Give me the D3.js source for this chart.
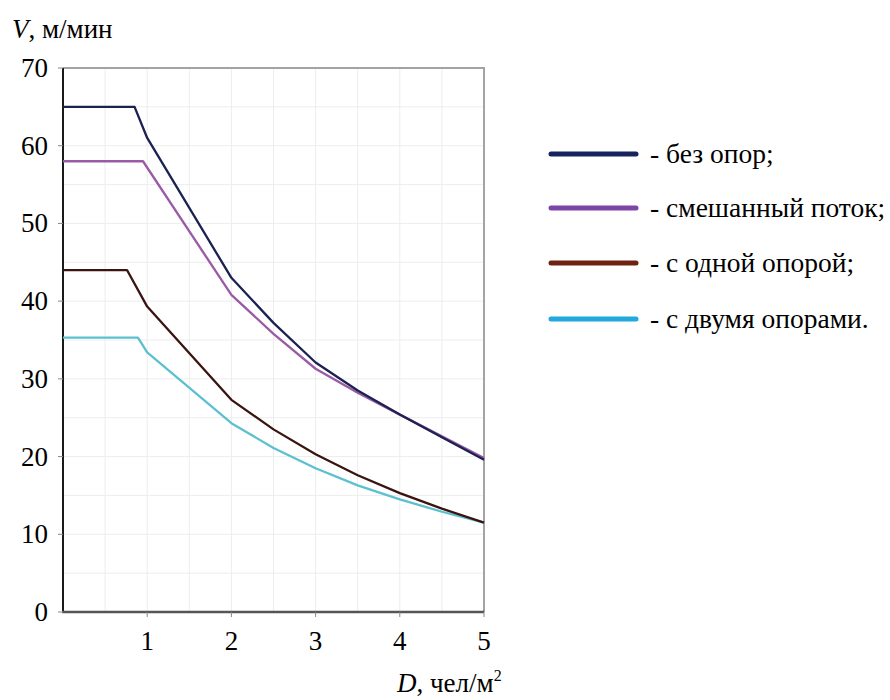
<!DOCTYPE html>
<html><head><meta charset="utf-8"><script src="https://cdn.jsdelivr.net/npm/d3@7"></script></head>
<body style="margin:0">
<svg id="chart" width="890" height="700"></svg>
<script>
const seriesNames = ["без опор", "смешанный поток", "с одной опорой", "с двумя опорами"];
const noSupportD   = [0, 0.85, 1, 2, 2.5, 3, 3.5, 4, 4.5, 5];
const noSupportV   = [65, 65, 61, 43, 37.2, 32.1, 28.5, 25.4, 22.5, 19.6];
const mixedD       = [0, 0.95, 2, 2.5, 3, 3.5, 4, 4.5, 5];
const mixedV       = [58, 58, 40.8, 35.8, 31.3, 28.2, 25.4, 22.6, 19.8];
const oneSupportD  = [0, 0.76, 1, 2, 2.5, 3, 3.5, 4, 4.5, 5];
const oneSupportV  = [44, 44, 39.3, 27.3, 23.5, 20.3, 17.6, 15.3, 13.3, 11.5];
const twoSupportD  = [0, 0.89, 1, 2, 2.5, 3, 3.5, 4, 4.5, 5];
const twoSupportV  = [35.3, 35.3, 33.4, 24.3, 21.1, 18.5, 16.3, 14.5, 12.9, 11.5];

const legendLabels = ["- без опор;", "- смешанный поток;", "- с одной опорой;", "- с двумя опорами."];
const xTicks = [1, 2, 3, 4, 5];
const yTicks = [0, 10, 20, 30, 40, 50, 60, 70];

const lineColors   = ["#1b2150", "#9a5aa6", "#3a1410", "#5cc0d0"];
const legendColors = ["#15245a", "#7e44a8", "#6e2212", "#22a8dc"];

const svg = d3.select("#chart");
const x = d3.scaleLinear().domain([0, 5]).range([63, 484]);
const y = d3.scaleLinear().domain([0, 70]).range([612, 68]);

// faint grid
const grid = svg.append("g");
grid.selectAll("line.v").data(d3.range(0.5, 5, 0.5)).join("line")
  .attr("x1", d => x(d)).attr("x2", d => x(d))
  .attr("y1", y(70)).attr("y2", y(0))
  .attr("stroke", "#ededed").attr("stroke-width", 1);
grid.selectAll("line.h").data(d3.range(5, 70, 5)).join("line")
  .attr("x1", x(0)).attr("x2", x(5))
  .attr("y1", d => y(d)).attr("y2", d => y(d))
  .attr("stroke", "#ededed").attr("stroke-width", 1);

// top and right edges of the plot frame
svg.append("path")
  .attr("d", `M${x(0)},${y(70)}H${x(5)}V${y(0)}`)
  .attr("fill", "none").attr("stroke", "#a3a3a3").attr("stroke-width", 2);

// axis lines and tick marks
svg.append("line").attr("x1", x(0)).attr("x2", x(0)).attr("y1", y(70)).attr("y2", y(0))
  .attr("stroke", "#1a1a1a").attr("stroke-width", 2);
svg.append("line").attr("x1", x(0) - 1).attr("x2", x(5)).attr("y1", y(0)).attr("y2", y(0))
  .attr("stroke", "#555").attr("stroke-width", 2.5);
svg.append("g").selectAll("line").data(yTicks).join("line")
  .attr("x1", x(0) - 5).attr("x2", x(0)).attr("y1", d => y(d)).attr("y2", d => y(d))
  .attr("stroke", "#888");
svg.append("g").selectAll("line").data(xTicks).join("line")
  .attr("x1", d => x(d)).attr("x2", d => x(d)).attr("y1", y(0)).attr("y2", y(0) + 5)
  .attr("stroke", "#888");

// tick numbers
svg.append("g").selectAll("text").data(yTicks).join("text")
  .attr("x", x(0) - 15).attr("y", d => y(d) + 9)
  .attr("text-anchor", "end")
  .attr("font-family", "Liberation Serif").attr("font-size", 27)
  .text(d => d);
svg.append("g").selectAll("text").data(xTicks).join("text")
  .attr("x", d => x(d)).attr("y", y(0) + 38)
  .attr("text-anchor", "middle")
  .attr("font-family", "Liberation Serif").attr("font-size", 27)
  .text(d => d);

// axis titles
const yTitle = svg.append("text").attr("x", 12).attr("y", 38)
  .attr("font-family", "Liberation Serif").attr("font-size", 27);
yTitle.append("tspan").attr("font-style", "italic").text("V");
yTitle.append("tspan").text(", м/мин");

const xTitle = svg.append("text").attr("x", 397).attr("y", 692)
  .attr("font-family", "Liberation Serif").attr("font-size", 27);
xTitle.append("tspan").attr("font-style", "italic").text("D");
xTitle.append("tspan").text(", чел/м");
xTitle.append("tspan").attr("dy", -11).attr("font-size", 16).text("2");

// speed curves
const series = [
  { d: twoSupportD, v: twoSupportV, i: 3 },
  { d: oneSupportD, v: oneSupportV, i: 2 },
  { d: mixedD, v: mixedV, i: 1 },
  { d: noSupportD, v: noSupportV, i: 0 }
];
const line = d3.line().x(p => x(p[0])).y(p => y(p[1]));
svg.append("g").selectAll("path").data(series).join("path")
  .attr("d", s => line(s.d.map((dv, k) => [dv, s.v[k]])))
  .attr("fill", "none")
  .attr("stroke", s => lineColors[s.i])
  .attr("stroke-width", 2.3)
  .attr("stroke-linejoin", "round");

// legend
const legendY = [154, 208, 263, 319];
const lg = svg.append("g");
lg.selectAll("line").data(legendLabels).join("line")
  .attr("x1", 551).attr("x2", 636)
  .attr("y1", (d, i) => legendY[i]).attr("y2", (d, i) => legendY[i])
  .attr("stroke", (d, i) => legendColors[i])
  .attr("stroke-width", 5).attr("stroke-linecap", "round");
lg.selectAll("text").data(legendLabels).join("text")
  .attr("x", 650).attr("y", (d, i) => legendY[i] + 9)
  .attr("font-family", "Liberation Serif").attr("font-size", 27.5)
  .text(d => d);
</script>
</body>
</html>
